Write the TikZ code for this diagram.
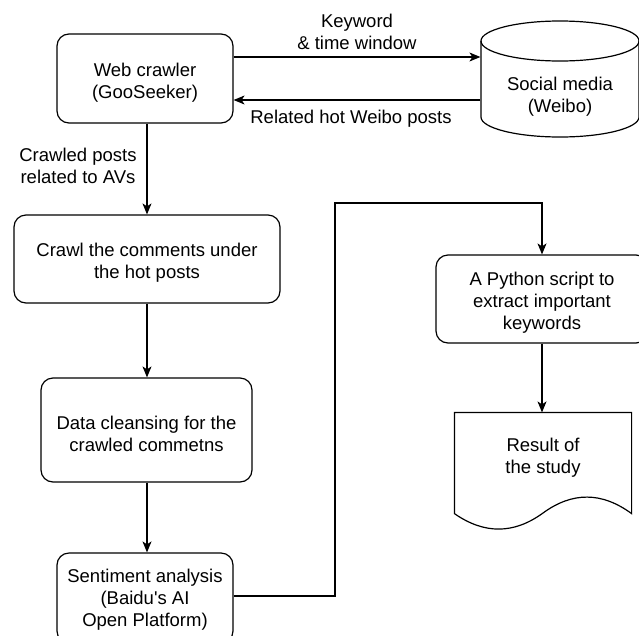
\documentclass[tikz,border=0pt]{standalone}
\usepackage{fontspec}
\setmainfont{Liberation Sans}[Ligatures=TeXOff]
\usetikzlibrary{arrows.meta}
\begin{document}
\begin{tikzpicture}[x=1pt,y=-1pt,
  line width=1.2pt,
  txt/.style={font=\fontsize{18.5}{22}\selectfont, align=center, inner sep=0pt},
  box/.style={draw, rounded corners=12pt, inner sep=0pt},
  intext/.style={txt, yshift=-4pt},
  arr/.style={-{Stealth[length=11pt,width=9pt,inset=3pt]}}]
\clip (0,0) rectangle (639,635);
\fill[white] (0,0) rectangle (639,635);
% nodes
\node[box, minimum width=176pt, minimum height=89pt,
  label={[intext]center:{Web crawler\\(GooSeeker)}}] (wc) at (145,78.5) {};
\node[minimum width=158pt, minimum height=116pt, inner sep=0pt] (db) at (560,79) {};
\node[txt] (dbtext) at (560,97) {Social media\\(Weibo)};
\draw (481,41) -- (481,117) arc[start angle=180,end angle=360,x radius=79pt,y radius=20pt] -- (639,41);
\draw (560,41) ellipse [x radius=79pt, y radius=20pt];
\node[box, minimum width=266pt, minimum height=88pt,
  label={[intext]center:{Crawl the comments under\\the hot posts}}] (crawl) at (147,259) {};
\node[box, minimum width=211pt, minimum height=104pt,
  label={[intext]center:{Data cleansing for the\\crawled commetns}}] (clean) at (146.5,430) {};
\node[box, minimum width=176pt, minimum height=90pt,
  label={[txt, yshift=-2pt]center:{Sentiment analysis\\(Baidu's AI\\Open Platform)}}] (sent) at (145,598) {};
\node[box, minimum width=212pt, minimum height=88pt,
  label={[intext]center:{A Python script to\\extract important\\keywords}}] (py) at (542,299) {};
\node[minimum width=176pt, minimum height=100pt, inner sep=0pt] (doc) at (543,463) {};
\node[txt] (doctext) at (543,458) {Result of\\the study};
\draw (doc.north west) -- (doc.north east) -- (doc.south east)
  .. controls (601.67,491.67) and (572.33,491.67) .. (543,513)
  .. controls (513.67,534.33) and (484.33,534.33) .. (doc.south west) -- cycle;
\coordinate (bend) at (335,203);
% connectors
\draw[arr] ([yshift=21.5pt]wc.east) -- ([yshift=21.5pt]wc.east -| db.west)
  node[txt, midway, yshift=25pt] {Keyword\\\& time window};
\draw[arr] ([yshift=-21.5pt]wc.east -| db.west) -- ([yshift=-21.5pt]wc.east)
  node[txt, midway, yshift=-19pt, xshift=-6pt] {Related hot Weibo posts};
\draw[arr] (wc.south -| crawl.north) -- (crawl.north)
  node[txt, midway, xshift=-69pt, yshift=3pt] {Crawled posts\\related to AVs};
\draw[arr] (crawl.south) -- (crawl.south |- clean.north);
\draw[arr] (clean.south -| crawl.south) -- (crawl.south |- sent.north);
\draw[arr] ([yshift=2pt]sent.east) -| (bend) -| (py.north);
\draw[arr] (py.south) -- (py.south |- doc.north);
\end{tikzpicture}
\end{document}
